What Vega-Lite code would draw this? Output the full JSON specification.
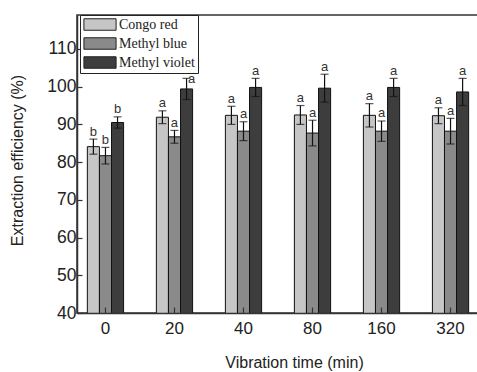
{
  "$schema": "https://vega.github.io/schema/vega-lite/v6.json",
  "autosize": "none",
  "padding": {"left": 77, "top": 15, "right": 0, "bottom": 59},
  "width": 402,
  "height": 298,
  "background": "white",
  "config": {
    "font": "Liberation Sans",
    "view": {"stroke": "#333", "strokeWidth": 1.5},
    "axis": {"domainColor": "#333", "domainWidth": 1.5, "tickColor": "#333", "labelColor": "#222", "titleColor": "#222", "grid": false}
  },
  "data": {"values": [
    {"t": "0", "dye": "Congo red", "v": 84.1, "lo": 82.1, "hi": 86.1, "sig": "b"},
    {"t": "0", "dye": "Methyl blue", "v": 81.7, "lo": 79.5, "hi": 83.9, "sig": "b"},
    {"t": "0", "dye": "Methyl violet", "v": 90.5, "lo": 89.0, "hi": 92.0, "sig": "b"},
    {"t": "20", "dye": "Congo red", "v": 91.9, "lo": 90.2, "hi": 93.6, "sig": "a"},
    {"t": "20", "dye": "Methyl blue", "v": 86.7, "lo": 85.0, "hi": 88.4, "sig": "a"},
    {"t": "20", "dye": "Methyl violet", "v": 99.4, "lo": 96.6, "hi": 102.2, "sig": "a"},
    {"t": "40", "dye": "Congo red", "v": 92.4, "lo": 90.0, "hi": 94.8, "sig": "a"},
    {"t": "40", "dye": "Methyl blue", "v": 88.2, "lo": 85.7, "hi": 90.7, "sig": "a"},
    {"t": "40", "dye": "Methyl violet", "v": 99.8, "lo": 97.4, "hi": 102.2, "sig": "a"},
    {"t": "80", "dye": "Congo red", "v": 92.5, "lo": 90.0, "hi": 95.0, "sig": "a"},
    {"t": "80", "dye": "Methyl blue", "v": 87.7, "lo": 84.3, "hi": 91.1, "sig": "a"},
    {"t": "80", "dye": "Methyl violet", "v": 99.6, "lo": 95.9, "hi": 103.3, "sig": "a"},
    {"t": "160", "dye": "Congo red", "v": 92.4, "lo": 89.3, "hi": 95.5, "sig": "a"},
    {"t": "160", "dye": "Methyl blue", "v": 88.2, "lo": 85.5, "hi": 90.9, "sig": "a"},
    {"t": "160", "dye": "Methyl violet", "v": 99.8, "lo": 97.4, "hi": 102.2, "sig": "a"},
    {"t": "320", "dye": "Congo red", "v": 92.3, "lo": 90.2, "hi": 94.4, "sig": "a"},
    {"t": "320", "dye": "Methyl blue", "v": 88.2, "lo": 84.8, "hi": 91.6, "sig": "a"},
    {"t": "320", "dye": "Methyl violet", "v": 98.6, "lo": 95.0, "hi": 102.2, "sig": "a"}
  ]},
  "encoding": {
    "x": {
      "field": "t", "type": "nominal",
      "sort": ["0", "20", "40", "80", "160", "320"],
      "scale": {"paddingInner": 0.475, "paddingOuter": 0.15},
      "axis": {
        "title": "Vibration time (min)", "labelAngle": 0, "labelFontSize": 17, "labelPadding": 13,
        "tickSize": -6, "tickWidth": 1.2, "zindex": 1,
        "titleFontSize": 16, "titleFontWeight": "normal", "titleX": 217, "titleY": 49, "titleBaseline": "middle"
      }
    },
    "xOffset": {"field": "dye", "type": "nominal", "sort": ["Congo red", "Methyl blue", "Methyl violet"]}
  },
  "layer": [
    {
      "mark": {"type": "bar", "stroke": "#111", "strokeWidth": 1, "clip": true},
      "encoding": {
        "y": {
          "field": "v", "type": "quantitative",
          "scale": {"domain": [40, 119], "nice": false, "zero": false},
          "axis": {
            "title": "Extraction efficiency (%)", "values": [40, 50, 60, 70, 80, 90, 100, 110],
            "labelFontSize": 17.5, "labelPadding": 6, "tickSize": -5, "tickWidth": 1.2,
            "titleFontSize": 16, "titleFontWeight": "normal", "titleX": -60, "titleY": 145,
            "titleBaseline": "middle", "titleAngle": -90, "titleAlign": "center"
          }
        },
        "color": {
          "field": "dye", "type": "nominal",
          "scale": {"domain": ["Congo red", "Methyl blue", "Methyl violet"], "range": ["#c6c6c6", "#8a8a8a", "#3d3d3d"]},
          "legend": {
            "title": null, "orient": "none", "legendX": 3, "legendY": 0,
            "strokeColor": "#222", "fillColor": "white", "padding": 2.5,
            "labelFont": "Liberation Serif", "labelFontSize": 14, "labelColor": "#222", "labelOffset": 12,
            "symbolType": "M-2.8,-1H2.8V1H-2.8Z", "symbolSize": 132, "symbolOffset": 10.5,
            "symbolStrokeColor": "#222", "symbolStrokeWidth": 1,
            "rowPadding": 3
          }
        }
      }
    },
    {
      "mark": {"type": "rule", "color": "#111", "strokeWidth": 1.2},
      "encoding": {"y": {"field": "lo", "type": "quantitative"}, "y2": {"field": "hi"}}
    },
    {
      "mark": {"type": "tick", "color": "#111", "thickness": 1.2, "size": 8, "orient": "horizontal"},
      "encoding": {"y": {"field": "lo", "type": "quantitative"}}
    },
    {
      "mark": {"type": "tick", "color": "#111", "thickness": 1.2, "size": 8, "orient": "horizontal"},
      "encoding": {"y": {"field": "hi", "type": "quantitative"}}
    },
    {
      "transform": [{"filter": "!(datum.t == '20' && datum.dye == 'Methyl violet')"}],
      "mark": {"type": "text", "baseline": "alphabetic", "dy": -3.5, "fontSize": 13, "color": "#333"},
      "encoding": {"y": {"field": "hi", "type": "quantitative"}, "text": {"field": "sig"}}
    },
    {
      "transform": [{"filter": "datum.t == '20' && datum.dye == 'Methyl violet'"}],
      "mark": {"type": "text", "baseline": "alphabetic", "dx": 5, "dy": 5, "fontSize": 13, "color": "#333"},
      "encoding": {"y": {"field": "hi", "type": "quantitative"}, "text": {"field": "sig"}}
    }
  ]
}
